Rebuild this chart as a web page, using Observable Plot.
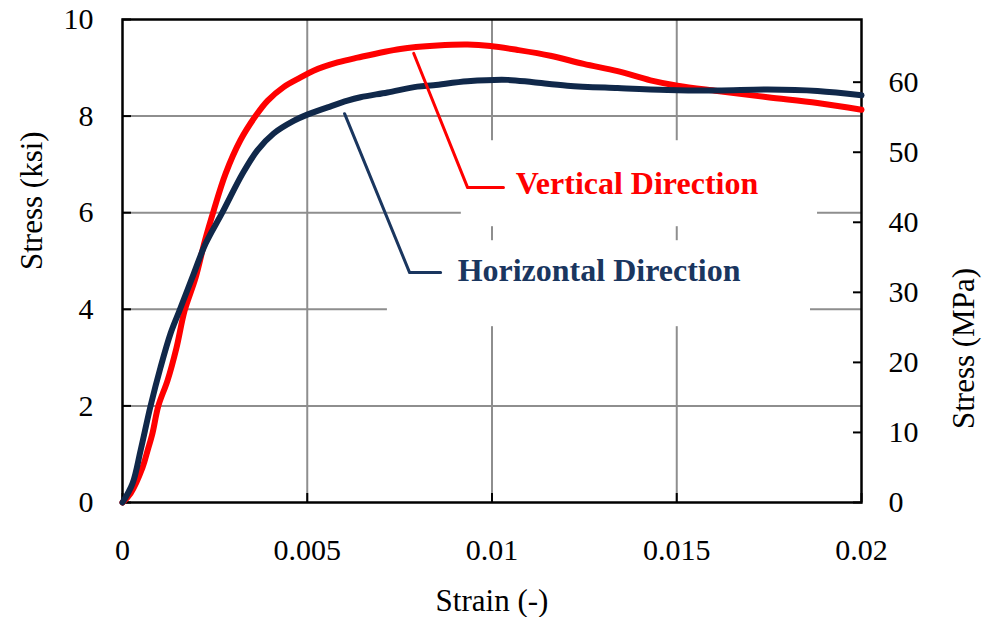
<!DOCTYPE html>
<html><head><meta charset="utf-8">
<script src="https://cdn.jsdelivr.net/npm/d3@7"></script>
<script src="https://cdn.jsdelivr.net/npm/@observablehq/plot@0.6"></script>
<style>
body{margin:0;background:#fff;}
#chart{width:985px;height:617px;}
</style>
</head><body><div id="chart"></div>
<script>
const KSI_TO_MPA = 6.89476;
const xTicks = [0, 0.005, 0.01, 0.015, 0.02];
const yTicks = [0, 2, 4, 6, 8, 10];
const mpaTicks = [0, 10, 20, 30, 40, 50, 60];
const xGrid = [0.005, 0.01, 0.015];
const yGrid = [2, 4, 6, 8];
const xTitle = "Strain (-)";
const yTitleLeft = "Stress (ksi)";
const yTitleRight = "Stress (MPa)";

const verticalStrain = [0, 0.00022, 0.00054, 0.00068, 0.00081, 0.00097, 0.00122, 0.00146, 0.00168, 0.00198, 0.00223, 0.00247, 0.00279, 0.00319, 0.0036, 0.00393, 0.00436, 0.00482, 0.00517, 0.00582, 0.00636, 0.00752, 0.00852, 0.00934, 0.00996, 0.01069, 0.01158, 0.01248, 0.0134, 0.01429, 0.01502, 0.0161, 0.01746, 0.01881, 0.02];
const verticalStress = [0, 0.19, 0.72, 1.08, 1.43, 2.0, 2.53, 3.2, 3.97, 4.66, 5.42, 6.05, 6.81, 7.5, 8.0, 8.32, 8.6, 8.8, 8.94, 9.11, 9.21, 9.39, 9.46, 9.48, 9.45, 9.37, 9.25, 9.08, 8.93, 8.74, 8.63, 8.52, 8.39, 8.27, 8.13];

const horizontalStrain = [0, 0.00027, 0.00049, 0.00076, 0.00103, 0.0013, 0.00154, 0.00189, 0.00225, 0.0027, 0.00325, 0.00365, 0.00409, 0.00463, 0.005, 0.00555, 0.00609, 0.00644, 0.00717, 0.00798, 0.00842, 0.00934, 0.01042, 0.01112, 0.01204, 0.0134, 0.01475, 0.0161, 0.01746, 0.01881, 0.02];
const horizontalStress = [0, 0.39, 1.08, 2.0, 2.8, 3.5, 3.97, 4.66, 5.36, 6.0, 6.81, 7.29, 7.64, 7.9, 8.03, 8.18, 8.32, 8.39, 8.49, 8.61, 8.64, 8.72, 8.75, 8.7, 8.63, 8.58, 8.54, 8.53, 8.55, 8.52, 8.43];

const labelNames = ["Vertical Direction", "Horizontal Direction"];
const labelStrain = [0.01064, 0.00907];
const labelStress = [6.38, 4.58];
const leaderVStrain = [0.00788, 0.00934, 0.01031];
const leaderVStress = [9.30, 6.52, 6.52];
const leaderHStrain = [0.00601, 0.00777, 0.00861];
const leaderHStress = [8.05, 4.76, 4.76];
const boxStrain1 = [0.00917, 0.00717];
const boxStrain2 = [0.01881, 0.01862];
const boxStress1 = [5.71, 3.64];
const boxStress2 = [7.49, 5.42];

const RED = "#ff0000";
const NAVY_LINE = "#10284a";
const NAVY_TEXT = "#1a365f";
const GRID = "#8e8e8e";

const vData = verticalStrain.map((s, i) => ({x: s, y: verticalStress[i]}));
const hData = horizontalStrain.map((s, i) => ({x: s, y: horizontalStress[i]}));
const vLeader = leaderVStrain.map((s, i) => ({x: s, y: leaderVStress[i]}));
const hLeader = leaderHStrain.map((s, i) => ({x: s, y: leaderHStress[i]}));
const boxes = boxStrain1.map((s, i) => ({x1: s, x2: boxStrain2[i], y1: boxStress1[i], y2: boxStress2[i]}));
const labels = labelNames.map((t, i) => ({t, x: labelStrain[i], y: labelStress[i], c: i === 0 ? RED : NAVY_TEXT}));

const FONT = "'Liberation Serif', 'Times New Roman', serif";

const chart = Plot.plot({
  width: 985,
  height: 617,
  marginLeft: 122,
  marginRight: 124,
  marginTop: 19,
  marginBottom: 115,
  style: {fontFamily: FONT, fontSize: "30px", color: "#000", background: "#fff"},
  x: {domain: [0, 0.02], label: null},
  y: {domain: [0, 10], label: null},
  marks: [
    Plot.gridX(xGrid, {stroke: GRID, strokeOpacity: 1, strokeWidth: 2}),
    Plot.gridY(yGrid, {stroke: GRID, strokeOpacity: 1, strokeWidth: 2}),
    Plot.rect(boxes, {x1: "x1", x2: "x2", y1: "y1", y2: "y2", fill: "#fff"}),
    Plot.axisX(xTicks, {anchor: "bottom", tickSize: -9, tickPadding: 45, strokeWidth: 2, fontSize: 30, tickFormat: d => String(d), label: null}),
    Plot.axisY(yTicks, {anchor: "left", tickSize: -9, tickPadding: 38, strokeWidth: 2, fontSize: 30, tickFormat: d => String(d), label: null}),
    Plot.axisY(mpaTicks.map(m => m / KSI_TO_MPA), {anchor: "right", tickSize: -9, tickPadding: 36, strokeWidth: 2, fontSize: 30, tickFormat: d => String(Math.round(d * KSI_TO_MPA)), label: null}),
    Plot.frame({stroke: "#000", strokeWidth: 2.5}),
    Plot.line(vData, {x: "x", y: "y", stroke: RED, strokeWidth: 6, curve: "catmull-rom", strokeLinecap: "round", strokeLinejoin: "round"}),
    Plot.line(hData, {x: "x", y: "y", stroke: NAVY_LINE, strokeWidth: 6, curve: "catmull-rom", strokeLinecap: "round", strokeLinejoin: "round"}),
    Plot.line(vLeader, {x: "x", y: "y", stroke: RED, strokeWidth: 3}),
    Plot.line(hLeader, {x: "x", y: "y", stroke: NAVY_TEXT, strokeWidth: 3}),
    Plot.text(labels, {x: "x", y: "y", text: "t", fill: "c", fontSize: 32, fontWeight: "bold", textAnchor: "start", lineAnchor: "bottom"}),
    Plot.text([xTitle], {frameAnchor: "bottom", text: d => d, fontSize: 31, lineAnchor: "bottom", dy: 108}),
    Plot.text([yTitleLeft], {frameAnchor: "left", text: d => d, fontSize: 31, rotate: -90, lineAnchor: "bottom", dx: -81, dy: 9}),
    Plot.text([yTitleRight], {frameAnchor: "right", text: d => d, fontSize: 31, rotate: -90, lineAnchor: "bottom", dx: 112, dy: 7})
  ]
});
document.getElementById("chart").appendChild(chart);
</script>
</body></html>
